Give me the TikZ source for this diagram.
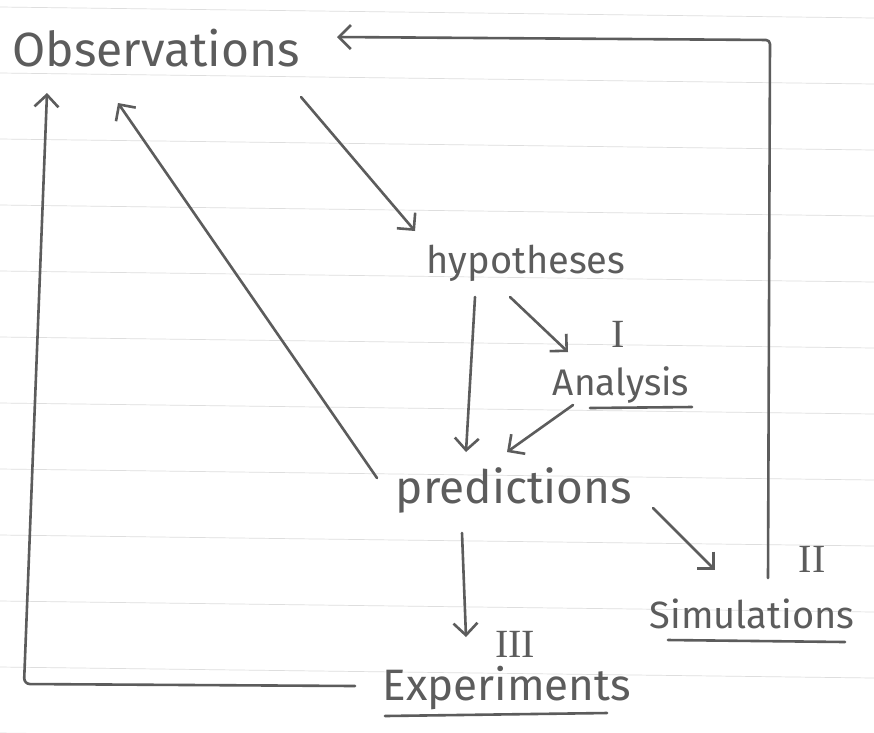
\documentclass[tikz,border=0pt]{standalone}
\usepackage{fontspec}
\setmainfont{Fira Sans}
\newfontfamily\numfont{Liberation Serif}
\usepackage{tikz}
\usetikzlibrary{arrows.meta,positioning}
\definecolor{pencil}{RGB}{92,92,92}
\definecolor{ruling}{RGB}{222,222,222}

\begin{document}
\begin{tikzpicture}[x=1pt, y=-1pt,
  word/.style={text=pencil, anchor=base, inner sep=1pt, font=\fontsize{38}{42}\selectfont},
  numeral/.style={text=pencil, anchor=base, inner sep=1pt, font=\numfont\fontsize{40}{42}\selectfont},
  pen/.style={draw=pencil, line width=2.6pt, line cap=round, line join=round},
  arr/.style={pen, -{Straight Barb[length=12pt,width=24pt]}}
]
  \useasboundingbox[fill=white] (0,0) rectangle (874,732);
  % ruled paper
  \foreach \y in {7,73,...,733}
    \draw[ruling, line width=0.7pt] (0,\y) -- (874,\y+11);

  % words
  \node[word, font=\fontsize{48}{52}\selectfont] (obs) at (156,66) {Observations};
  \node[word] (hyp) at (526,273) {hypotheses};
  \node[numeral] (one) at (618,347) {I};
  \node[word, font=\fontsize{37}{40}\selectfont] (ana) at (621,395) {Analysis};
  \node[word, font=\fontsize{46}{50}\selectfont] (pred) at (514,503) {predictions};
  \node[numeral] (two) at (812,572) {II};
  \node[word] (sim) at (752,628) {Simulations};
  \node[numeral] (three) at (515,657) {III};
  \node[word, font=\fontsize{44}{48}\selectfont] (exp) at (507,700) {Experiments};

  % underlines
  \draw[pen] ([shift={(-31,13)}]ana.base) -- ([shift={(71,12)}]ana.base);
  \draw[pen] ([shift={(-84,12)}]sim.base) -- ([shift={(93,14)}]sim.base);
  \draw[pen] ([shift={(-122,16)}]exp.base) -- ([shift={(100,13)}]exp.base);

  % arrows
  \draw[arr] ([shift={(145,31)}]obs.base) -- ([shift={(-111,-42)}]hyp.base);
  \draw[arr] ([shift={(-51,24)}]hyp.base) -- ([shift={(-48,-51)}]pred.base);
  \draw[arr] ([shift={(-16,24)}]hyp.base) -- ([shift={(-53,-43)}]ana.base);
  \draw[arr] ([shift={(-48,10)}]ana.base) -- ([shift={(-7,-51)}]pred.base);
  \draw[arr] ([shift={(-137,-25)}]pred.base) -- ([shift={(-38,37)}]obs.base);
  \draw[arr] ([shift={(139,5)}]pred.base) -- ([shift={(-37,-58)}]sim.base);
  \draw[arr] ([shift={(-52,30)}]pred.base) -- ([shift={(-41,-63)}]exp.base);

  % feedback loops
  \coordinate (bl) at (24,684);
  \coordinate (tr) at (770,40);
  \draw[arr, rounded corners=6pt] ([shift={(-152,-14)}]exp.base) -- (bl) -- ([shift={(-109,27)}]obs.base);
  \draw[arr, rounded corners=4pt] ([shift={(16,-50)}]sim.base) -- (tr) -- ([shift={(181,-29)}]obs.base);
\end{tikzpicture}
\end{document}
